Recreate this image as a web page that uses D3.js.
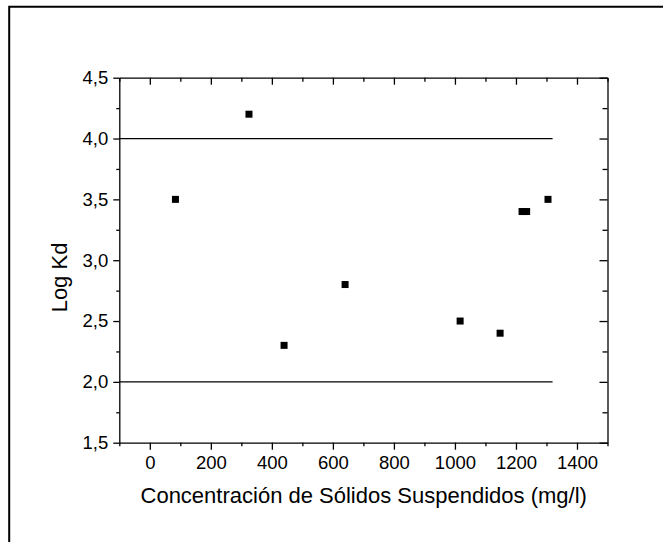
<!DOCTYPE html>
<html lang="es">
<head>
<meta charset="UTF-8">
<title>Log Kd vs concentración</title>
<script src="https://cdn.jsdelivr.net/npm/d3@7"></script>
<style>
  body { margin: 0; background: #fff; }
  svg { display: block; font-family: "Liberation Sans", Arial, sans-serif; }
</style>
</head>
<body>
<div id="chart"></div>
<script>
// data
const conc = [84, 325, 440, 640, 1017, 1148, 1220, 1235, 1305];
const logKd = [3.5, 4.2, 2.3, 2.8, 2.5, 2.4, 3.4, 3.4, 3.5];
const refLevels = [4.0, 2.0];
const refEnd = 1320;
const xTicks = [0, 200, 400, 600, 800, 1000, 1200, 1400];
const xMinor = [-100, 100, 300, 500, 700, 900, 1100, 1300, 1500];
const yTicks = [1.5, 2.0, 2.5, 3.0, 3.5, 4.0, 4.5];
const yMinor = [1.75, 2.25, 2.75, 3.25, 3.75, 4.25];

const W = 663, H = 542;
const plot = { left: 119.3, right: 607.5, top: 77.7, bottom: 442.7 };

const svg = d3.select("#chart").append("svg")
  .attr("width", W).attr("height", H);

// outer frame (only top + left visible)
svg.append("path")
  .attr("d", `M9.2,${H + 10}V6.7H${W + 10}`)
  .attr("fill", "none").attr("stroke", "#000").attr("stroke-width", 2);

const x = d3.scaleLinear().domain([-100, 1500]).range([plot.left, plot.right]);
const y = d3.scaleLinear().domain([1.5, 4.5]).range([plot.bottom, plot.top]);

const comma = d => d3.format(".1f")(d).replace(".", ",");

function styleAxis(g) {
  g.selectAll("path, line").attr("stroke", "#000").attr("stroke-width", 1.3);
  g.selectAll("text").attr("fill", "#000").attr("font-size", 18.5).attr("font-family", "Liberation Sans, Arial, sans-serif");
}

// bottom axis (ticks out)
svg.append("g").attr("transform", `translate(0,${plot.bottom})`)
  .call(d3.axisBottom(x).tickValues(xMinor).tickSize(3.5).tickFormat("").tickSizeOuter(0))
  .call(styleAxis);
svg.append("g").attr("transform", `translate(0,${plot.bottom})`)
  .call(d3.axisBottom(x).tickValues(xTicks).tickSize(7).tickPadding(6).tickFormat(d3.format("d")).tickSizeOuter(0))
  .call(styleAxis)
  .call(g => g.select(".domain").remove());

// top axis (ticks in)
svg.append("g").attr("transform", `translate(0,${plot.top})`)
  .call(d3.axisTop(x).tickValues(xMinor).tickSize(-4).tickFormat("").tickSizeOuter(0))
  .call(styleAxis);
svg.append("g").attr("transform", `translate(0,${plot.top})`)
  .call(d3.axisTop(x).tickValues(xTicks).tickSize(-7).tickFormat("").tickSizeOuter(0))
  .call(styleAxis)
  .call(g => g.select(".domain").remove());

// left axis (ticks out)
svg.append("g").attr("transform", `translate(${plot.left},0)`)
  .call(d3.axisLeft(y).tickValues(yMinor).tickSize(3).tickFormat("").tickSizeOuter(0))
  .call(styleAxis);
svg.append("g").attr("transform", `translate(${plot.left},0)`)
  .call(d3.axisLeft(y).tickValues(yTicks).tickSize(6).tickPadding(5).tickFormat(comma).tickSizeOuter(0))
  .call(styleAxis)
  .call(g => g.select(".domain").remove());

// right axis (ticks in)
svg.append("g").attr("transform", `translate(${plot.right},0)`)
  .call(d3.axisRight(y).tickValues(yMinor).tickSize(-5).tickFormat("").tickSizeOuter(0))
  .call(styleAxis);
svg.append("g").attr("transform", `translate(${plot.right},0)`)
  .call(d3.axisRight(y).tickValues(yTicks).tickSize(-8).tickFormat("").tickSizeOuter(0))
  .call(styleAxis)
  .call(g => g.select(".domain").remove());

// reference lines
svg.append("g").selectAll("line")
  .data(refLevels)
  .join("line")
  .attr("x1", x(-100)).attr("x2", x(refEnd))
  .attr("y1", d => y(d)).attr("y2", d => y(d))
  .attr("stroke", "#000").attr("stroke-width", 1.3);

// points
const pts = conc.map((c, i) => ({ c: c, v: logKd[i] }));
svg.append("g").selectAll("rect")
  .data(pts)
  .join("rect")
  .attr("x", d => x(d.c) - 3.5)
  .attr("y", d => y(d.v) - 3.5)
  .attr("width", 7).attr("height", 7)
  .attr("fill", "#000");

// axis titles
svg.append("text")
  .attr("x", (140.7 + 586.7) / 2).attr("y", 503)
  .attr("text-anchor", "middle")
  .attr("font-size", 22)
  .text("Concentración de Sólidos Suspendidos (mg/l)");

svg.append("text")
  .attr("transform", "translate(67,277.5) rotate(-90)")
  .attr("text-anchor", "middle")
  .attr("font-size", 22)
  .text("Log Kd");
</script>
</body>
</html>
